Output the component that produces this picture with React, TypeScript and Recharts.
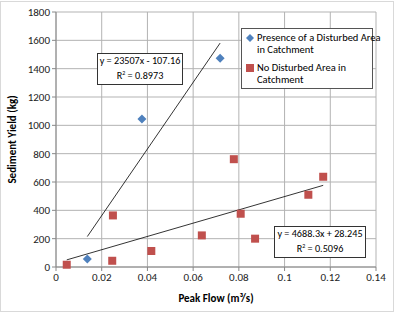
import React from 'react'
import {
  ScatterChart,
  Scatter,
  XAxis,
  YAxis,
  CartesianGrid,
  ReferenceLine,
} from 'recharts'

// Sites with a disturbed area upstream
const disturbedFlow = [0.0137, 0.0376, 0.0718]
const disturbedYield = [56, 1044, 1474]

// Sites with no disturbed area
const undisturbedFlow = [0.0047, 0.0249, 0.0246, 0.0417, 0.0638, 0.0778, 0.0808, 0.0871, 0.1104, 0.1169]
const undisturbedYield = [16, 364, 44, 113, 223, 761, 376, 200, 510, 637]

const xTicks = [0, 0.02, 0.04, 0.06, 0.08, 0.1, 0.12, 0.14]
const yTicks = [0, 200, 400, 600, 800, 1000, 1200, 1400, 1600, 1800]

// linear trendlines (slope, intercept, R²)
const disturbedFit = { slope: 23507, intercept: -107.16, r2: 0.8973 }
const undisturbedFit = { slope: 4688.3, intercept: 28.245, r2: 0.5096 }

const toPoints = (xs: number[], ys: number[]) => xs.map((x, i) => ({ x, y: ys[i] }))

const trendSegment = (xs: number[], fit: { slope: number; intercept: number }) => {
  const lo = Math.min(...xs)
  const hi = Math.max(...xs)
  return [
    { x: lo, y: fit.slope * lo + fit.intercept },
    { x: hi, y: fit.slope * hi + fit.intercept },
  ]
}

const font = 'Carlito, Lato, "Open Sans", sans-serif'
const BLUE = '#4f81bd'
const RED = '#c0504d'
const GRID = '#b3b3b3'

const Diamond = (props: any) => {
  const { cx, cy } = props
  const r = 4.5
  return <path d={`M${cx},${cy - r}L${cx + r},${cy}L${cx},${cy + r}L${cx - r},${cy}Z`} fill={BLUE} />
}

const Square = (props: any) => {
  const { cx, cy } = props
  const s = 8
  return <rect x={cx - s / 2} y={cy - s / 2} width={s} height={s} fill={RED} />
}

const LegendBox = () => (
  <div
    style={{
      position: 'absolute',
      left: 241,
      top: 28,
      width: 132,
      height: 61,
      border: '1px solid #555',
      background: '#fff',
      fontFamily: font,
      fontSize: 10.5,
      lineHeight: '12px',
      color: '#000',
      whiteSpace: 'nowrap',
      padding: '3px 1px 0 3px',
      boxSizing: 'border-box',
    }}
  >
    <div style={{ display: 'flex', marginBottom: 6 }}>
      <svg width={10} height={12} style={{ flex: 'none' }}>
        <path d="M5,2L9,6L5,10L1,6Z" fill={BLUE} />
      </svg>
      <span style={{ marginLeft: 2 }}>
        Presence of a Disturbed Area
        <br />
        in Catchment
      </span>
    </div>
    <div style={{ display: 'flex' }}>
      <svg width={10} height={12} style={{ flex: 'none' }}>
        <rect x={1} y={2} width={8} height={8} fill={RED} />
      </svg>
      <span style={{ marginLeft: 2 }}>
        No Disturbed Area in
        <br />
        Catchment
      </span>
    </div>
  </div>
)

const fmtEq = (fit: { slope: number; intercept: number }) =>
  `y = ${fit.slope}x ${fit.intercept < 0 ? '-' : '+'} ${Math.abs(fit.intercept)}`

const EqBox = ({ fit, left, top, width }: any) => (
  <div
    style={{
      position: 'absolute',
      left,
      top,
      width,
      border: '1px solid #333',
      background: '#fff',
      fontFamily: font,
      fontSize: 10.2,
      lineHeight: '12px',
      textAlign: 'center',
      whiteSpace: 'nowrap',
      padding: '1px 0 2px',
      boxSizing: 'border-box',
    }}
  >
    <div>{fmtEq(fit)}</div>
    <div>
      R<sup style={{ fontSize: 6, verticalAlign: 4 }}>2</sup> = {fit.r2}
    </div>
  </div>
)

export default function App() {
  return (
    <div style={{ position: 'relative', width: 399, height: 314, background: '#fff' }}>
      <style>{'body{margin:0}'}</style>
      <div
        style={{
          position: 'absolute',
          left: 0,
          top: 1,
          width: 394,
          height: 311,
          border: '1px solid #d9d9d9',
          boxSizing: 'border-box',
        }}
      />
      <ScatterChart width={399} height={314} margin={{ top: 12, right: 23, bottom: 0, left: 0 }}>
        <CartesianGrid stroke={GRID} strokeWidth={1} />
        <XAxis
          type="number"
          dataKey="x"
          domain={[0, 0.14]}
          ticks={xTicks}
          tickFormatter={(v: number) => String(Number(v.toFixed(2)))}
          height={47}
          stroke="#888"
          tickSize={4}
          tick={{ fill: '#222', fontSize: 11, fontFamily: font }}
          label={{
            value: 'Peak Flow (m³/s)',
            position: 'insideBottom',
            offset: 12,
            style: { fill: '#000', fontSize: 11, fontWeight: 'bold', fontFamily: font },
          }}
        />
        <YAxis
          type="number"
          dataKey="y"
          domain={[0, 1800]}
          ticks={yTicks}
          width={56}
          stroke="#888"
          tickSize={4}
          tick={{ fill: '#222', fontSize: 11, fontFamily: font }}
          label={{
            value: 'Sediment Yield (kg)',
            angle: -90,
            position: 'insideLeft',
            offset: 12,
            style: { textAnchor: 'middle', fill: '#000', fontSize: 11, fontWeight: 'bold', fontFamily: font },
          }}
        />
        <ReferenceLine segment={trendSegment(disturbedFlow, disturbedFit)} stroke="#000" strokeWidth={0.8} />
        <ReferenceLine segment={trendSegment(undisturbedFlow, undisturbedFit)} stroke="#000" strokeWidth={0.8} />
        <Scatter
          name="Presence of a Disturbed Area in Catchment"
          data={toPoints(disturbedFlow, disturbedYield)}
          shape={Diamond}
          isAnimationActive={false}
        />
        <Scatter
          name="No Disturbed Area in Catchment"
          data={toPoints(undisturbedFlow, undisturbedYield)}
          shape={Square}
          isAnimationActive={false}
        />
      </ScatterChart>
      <LegendBox />
      <EqBox fit={disturbedFit} left={97} top={53} width={86} />
      <EqBox fit={undisturbedFit} left={274} top={226} width={92} />
    </div>
  )
}
